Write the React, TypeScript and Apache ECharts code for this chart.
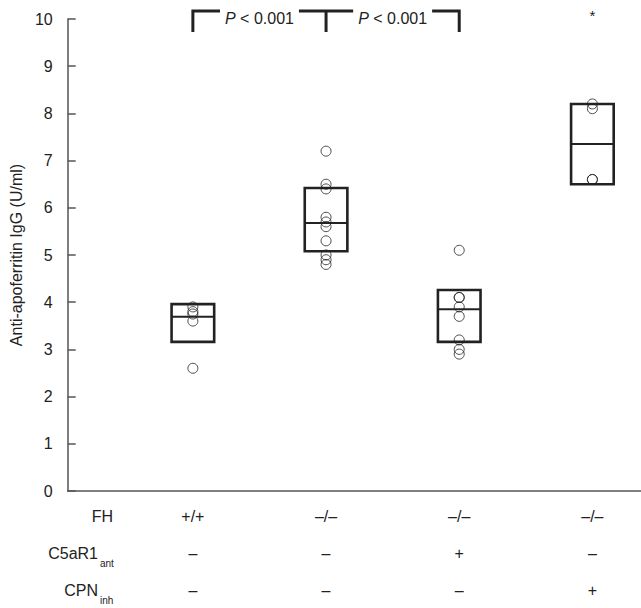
import React, { useEffect, useRef } from "react";
import * as echarts from "echarts";

// ---- data ----
const groupPos = [1, 2, 3, 4];
const fhRow = ["+/+", "\u2013/\u2013", "\u2013/\u2013", "\u2013/\u2013"];
const c5aRow = ["\u2013", "\u2013", "+", "\u2013"];
const cpnRow = ["\u2013", "\u2013", "\u2013", "+"];

const valsA = [3.9, 3.8, 3.75, 3.6, 2.6];
const valsB = [7.2, 6.5, 6.4, 5.8, 5.7, 5.6, 5.3, 5.0, 4.9, 4.8];
const valsC = [5.1, 4.1, 4.1, 3.9, 3.7, 3.2, 3.0, 2.9];
const valsD = [8.2, 8.1, 6.6, 6.6];
const groupVals = [valsA, valsB, valsC, valsD];

const boxLow = [3.16, 5.08, 3.16, 6.5];
const boxMedian = [3.69, 5.68, 3.85, 7.35];
const boxHigh = [3.96, 6.42, 4.26, 8.2];

const pLabel = "P < 0.001";
const yTitle = "Anti-apoferritin IgG (U/ml)";

const FONT = "'Liberation Sans', Arial, Helvetica, sans-serif";
const INK = "#222";

export default function App() {
  const ref = useRef<HTMLDivElement>(null);

  useEffect(() => {
    if (!ref.current) return;
    const chart = echarts.init(ref.current, undefined, { renderer: "svg" });

    const boxData = groupPos.map((p, i) => [p, boxLow[i], boxMedian[i], boxHigh[i]]);

    const scatterSeries = groupVals.map((vals, i) => ({
      type: "scatter",
      data: vals.map((v) => [groupPos[i], v]),
      symbol: "circle",
      symbolSize: 10,
      itemStyle: { color: "rgba(0,0,0,0)", borderColor: INK, borderWidth: 1 },
      z: 5,
      silent: true,
    }));

    chart.setOption({
      animation: false,
      grid: { left: 63, right: 0, top: 19, bottom: 117 },
      xAxis: {
        type: "value",
        min: 0.06,
        max: 4.365,
        axisLine: { show: true, lineStyle: { color: "#555", width: 1.5 } },
        axisTick: { show: false },
        axisLabel: { show: false },
        splitLine: { show: false },
      },
      yAxis: {
        type: "value",
        min: 0,
        max: 10,
        interval: 1,
        name: yTitle,
        nameLocation: "middle",
        nameGap: 43,
        nameTextStyle: { fontFamily: FONT, fontSize: 16, color: INK },
        axisLine: { show: true, lineStyle: { color: "#555", width: 1.5 } },
        axisTick: { show: true, inside: true, length: 8, lineStyle: { color: "#555", width: 1.5 } },
        axisLabel: { fontFamily: FONT, fontSize: 16, color: INK, margin: 15 },
        splitLine: { show: false },
      },
      series: [
        {
          type: "custom",
          data: boxData,
          encode: { x: 0, y: [1, 2, 3] },
          silent: true,
          z: 3,
          renderItem: (params: any, api: any) => {
            const x = api.value(0);
            const lo = api.coord([x, api.value(1)]);
            const md = api.coord([x, api.value(2)]);
            const hi = api.coord([x, api.value(3)]);
            const w = api.size([0.32, 0])[0];
            return {
              type: "group",
              children: [
                {
                  type: "rect",
                  shape: { x: lo[0] - w / 2, y: hi[1], width: w, height: lo[1] - hi[1] },
                  style: { fill: "none", stroke: INK, lineWidth: 2.6 },
                },
                {
                  type: "line",
                  shape: { x1: md[0] - w / 2, y1: md[1], x2: md[0] + w / 2, y2: md[1] },
                  style: { stroke: INK, lineWidth: 2 },
                },
              ],
            };
          },
        },
        ...scatterSeries,
      ],
    });

    // annotations positioned through the axes' scales
    const px = (x: number, v: number) => chart.convertToPixel({ gridIndex: 0 }, [x, v]) as number[];
    const base0 = px(1, 0)[1];
    const top10 = px(1, 10)[1];
    const bTop = top10 - 8;
    const bBot = top10 + 13;
    const g1 = px(groupPos[0], 0)[0];
    const g2 = px(groupPos[1], 0)[0];
    const g3 = px(groupPos[2], 0)[0];
    const g4 = px(groupPos[3], 0)[0];

    const graphics: any[] = [];
    graphics.push({
      type: "polyline",
      shape: { points: [[g1, bBot], [g1, bTop], [g3, bTop], [g3, bBot]] },
      style: { stroke: INK, lineWidth: 3, fill: "none" },
      z: 10,
    });
    graphics.push({
      type: "line",
      shape: { x1: g2, y1: bTop, x2: g2, y2: bBot },
      style: { stroke: INK, lineWidth: 3 },
      z: 10,
    });
    const pText = (cx: number) => ({
      type: "text",
      x: cx,
      y: bTop + 7,
      z: 11,
      style: {
        text: "{i|P}" + pLabel.slice(1),
        align: "center",
        verticalAlign: "middle",
        fontFamily: FONT,
        fontSize: 16,
        fill: INK,
        backgroundColor: "#fff",
        padding: [1, 5],
        rich: { i: { fontStyle: "italic", fontFamily: FONT, fontSize: 16, fill: INK } },
      },
    });
    graphics.push(pText((g1 + g2) / 2));
    graphics.push(pText((g2 + g3) / 2));
    graphics.push({
      type: "text",
      x: g4,
      y: bTop + 4,
      z: 11,
      style: { text: "*", align: "center", verticalAlign: "middle", fontFamily: FONT, fontSize: 15, fill: INK },
    });

    const rowOffsets = [25, 62, 99];
    const rows = [fhRow, c5aRow, cpnRow];
    rows.forEach((row, r) => {
      row.forEach((t, i) => {
        graphics.push({
          type: "text",
          x: px(groupPos[i], 0)[0],
          y: base0 + rowOffsets[r],
          style: { text: t, align: "center", verticalAlign: "middle", fontFamily: FONT, fontSize: 16, fill: INK },
        });
      });
    });
    // row headers
    const headers = [
      { main: "FH", sub: "" },
      { main: "C5aR1", sub: "ant" },
      { main: "CPN", sub: "inh" },
    ];
    headers.forEach((h, r) => {
      const y = base0 + rowOffsets[r];
      const mainRight = h.sub ? 98 : 113;
      graphics.push({
        type: "text",
        x: mainRight,
        y,
        style: { text: h.main, align: "right", verticalAlign: "middle", fontFamily: FONT, fontSize: 16, fill: INK },
      });
      if (h.sub) {
        graphics.push({
          type: "text",
          x: 100,
          y: y + 10,
          style: { text: h.sub, align: "left", verticalAlign: "middle", fontFamily: FONT, fontSize: 10, fill: INK },
        });
      }
    });

    chart.setOption({ graphic: graphics });

    return () => chart.dispose();
  }, []);

  return (
    <div
      ref={ref}
      style={{ position: "fixed", left: 0, top: 0, width: 641, height: 608, background: "#fff" }}
    />
  );
}
